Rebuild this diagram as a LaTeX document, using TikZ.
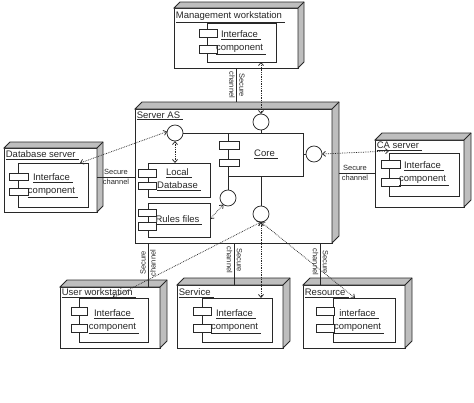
\documentclass[tikz,border=0pt]{standalone}
\usepackage{fontspec}
\setmainfont{Liberation Sans}
\usetikzlibrary{arrows.meta,calc}
\newcommand\ulx[1]{\underline{#1\hspace{3pt}}}
\newcommand\depthbox[2]{%
  \filldraw[fill=sidegray] (#1.north west) -- ([shift={(#2,#2)}]#1.north west) -- ([shift={(#2,#2)}]#1.north east) -- ([shift={(#2,#2)}]#1.south east) -- (#1.south east) -- (#1.north east) -- cycle;
  \draw (#1.north east) -- ([shift={(#2,#2)}]#1.north east);}
\definecolor{sidegray}{RGB}{190,190,190}
\definecolor{ink}{RGB}{40,40,40}
\begin{document}
\begin{tikzpicture}[x=1pt,y=-1pt,line width=0.75pt,color=ink,
  face/.style={draw=ink,fill=white,rectangle,inner sep=0pt,outer sep=0pt},
  comp/.style={draw=ink,rectangle,inner sep=0pt,outer sep=0pt},
  tiny/.style={draw=ink,fill=white,rectangle,inner sep=0pt,outer sep=0pt,minimum width=18pt,minimum height=7.5pt},
  iface/.style={draw=ink,fill=white,circle,inner sep=0pt,outer sep=0pt,minimum size=16pt},
  lbl/.style={inner sep=0pt,anchor=north west,font=\fontsize{9.5}{12}\selectfont,text=ink},
  txt/.style={inner sep=0pt,align=center,font=\fontsize{9.5}{13}\selectfont,text=ink},
  chan/.style={inner sep=0pt,align=center,font=\fontsize{7.5}{10}\selectfont,text=ink},
  dep/.style={densely dotted,{Straight Barb[length=3pt,width=5pt]}-{Straight Barb[length=3pt,width=5pt]}}]
\useasboundingbox (0,0) rectangle (474,402);

% ---------- nodes (front faces) ----------
\node[face,minimum width=124pt,minimum height=60pt] (mw) at (236,38) {};
\depthbox{mw}{6pt}
\node[face,minimum width=197pt,minimum height=134pt] (as) at (233.5,176) {};
\depthbox{as}{7pt}
\node[face,minimum width=93pt,minimum height=64pt] (ds) at (50.5,180) {};
\depthbox{ds}{6pt}
\node[face,minimum width=89pt,minimum height=67pt] (ca) at (419.5,173.5) {};
\depthbox{ca}{7pt}
\node[face,minimum width=100pt,minimum height=61pt] (uw) at (110,317.5) {};
\depthbox{uw}{7pt}
\node[face,minimum width=106pt,minimum height=63pt] (sv) at (230,316.5) {};
\depthbox{sv}{7pt}
\node[face,minimum width=102pt,minimum height=63pt] (rs) at (354,316.5) {};
\depthbox{rs}{7pt}

% ---------- node labels ----------
\node[lbl] (mwl) at ([shift={(1.5pt,-3.5pt)}]mw.north west) {\ulx{Management workstation}};
\node[lbl] (asl) at ([shift={(1.5pt,-2pt)}]as.north west) {\ulx{Server AS}};
\node[lbl] (dsl) at ([shift={(1.5pt,-2pt)}]ds.north west) {\ulx{Database server}};
\node[lbl] (cal) at ([shift={(1.5pt,-1.5pt)}]ca.north west) {\ulx{CA server}};
\node[lbl] (uwl) at ([shift={(1.5pt,-1.5pt)}]uw.north west) {\ulx{User workstation}};
\node[lbl] (svl) at ([shift={(1.5pt,-3pt)}]sv.north west) {\ulx{Service}};
\node[lbl] (rsl) at ([shift={(1.5pt,-4pt)}]rs.north west) {\ulx{Resource}};

% ---------- inner components ----------
\node[comp,minimum width=69pt,minimum height=39pt] (mwi) at (241.5,42.5) {};
\node[tiny] (mwa) at (208,33.5) {};
\node[tiny] (mwb) at (208,49.5) {};
\node[txt] (mwt) at (241,43) {\ulx{Interface}\\\ulx{component}};

\node[comp,minimum width=70pt,minimum height=44pt] (dsi) at (53,185) {};
\node[tiny,minimum width=19pt] (dsa) at (18.5,177) {};
\node[tiny,minimum width=19pt] (dsb) at (18.5,192) {};
\node[txt] (dst) at (53,185.5) {\ulx{Interface}\\\ulx{component}};

\node[comp,minimum width=70pt,minimum height=43pt] (cai) at (424,174.5) {};
\node[tiny,minimum width=19pt] (caa) at (390.5,164.5) {};
\node[tiny,minimum width=19pt] (cab) at (390.5,182.5) {};
\node[txt] (cat) at (424,174) {\ulx{Interface}\\\ulx{component}};

\node[comp,minimum width=69pt,minimum height=44pt] (uwi) at (113.5,320) {};
\node[tiny,minimum width=16pt] (uwa) at (79,311.5) {};
\node[tiny,minimum width=16pt] (uwb) at (79,328.5) {};
\node[txt] (uwt) at (114,321.5) {\ulx{Interface}\\\ulx{component}};

\node[comp,minimum width=70pt,minimum height=44pt] (svi) at (237,320) {};
\node[tiny] (sva) at (202,311.5) {};
\node[tiny] (svb) at (202,328.5) {};
\node[txt] (svt) at (236,321.5) {\ulx{Interface}\\\ulx{component}};

\node[comp,minimum width=62pt,minimum height=44pt] (rsi) at (364,320) {};
\node[tiny] (rsa) at (325,311.5) {};
\node[tiny] (rsb) at (325,328.5) {};
\node[txt] (rst) at (359,321.5) {\ulx{interface}\\\ulx{component}};

% ---------- Server AS contents ----------
\node[comp,minimum width=75pt,minimum height=43pt] (core) at (265.5,154.5) {};
\node[tiny,minimum width=20pt] (corea) at (229,145.5) {};
\node[tiny,minimum width=20pt] (coreb) at (229,163) {};
\node[txt] (coret) at (266,154.5) {\ulx{Core}};

\node[comp,minimum width=62pt,minimum height=34pt] (ldb) at (179,180) {};
\node[tiny] (ldba) at (147.5,173.5) {};
\node[tiny] (ldbb) at (147.5,186) {};
\node[txt] (ldbt) at (179,180) {\ulx{Local}\\\ulx{Database}};

\node[comp,minimum width=62pt,minimum height=34pt] (rf) at (179,220) {};
\node[tiny] (rfa) at (147.5,213) {};
\node[tiny] (rfb) at (147.5,226.5) {};
\node[txt] (rft) at (179,220) {\ulx{Rules files}};

\node[iface] (cL) at (175,133) {};
\node[iface] (cT) at (261,122) {};
\node[iface] (cR) at (314,154) {};
\node[iface] (cM) at (228,198) {};
\node[iface] (cB) at (261,214) {};

\draw (cL.east) -- (core.north west);
\draw (core.south west) -- (cM.north);
\draw (cT.south) -- (cT.south |- core.north);
\draw (cB.north |- core.south) -- (cB.north);
\draw (core.east |- cR.west) -- (cR.west);

% ---------- secure channels ----------
\coordinate (astop) at ([yshift=7pt]as.north);
\draw (236,0 |- mw.south) -- (236,0 |- astop);
\node[chan,rotate=-90] (mwc) at (237,85) {Secure\\channel};
\draw (ds.east |- 0,177) -- (as.west |- 0,177);
\node[chan] (dsc) at (116,177) {Secure\\channel};
\draw ([xshift=7pt]as.east |- 0,173) -- (ca.west |- 0,173);
\node[chan] (cac) at (355,173) {Secure\\channel};
\draw (148,0 |- as.south) -- (148,0 |- uw.north);
\node[chan,rotate=90] (uwc) at (148,263) {Secure\\channel};
\draw (234,0 |- as.south) -- (234,0 |- sv.north);
\node[chan,rotate=-90] (svc) at (234.5,260) {Secure\\channel};
\draw (320,0 |- as.south) -- (320,0 |- rs.north);
\node[chan,rotate=-90] (rsc) at (320.5,262) {Secure\\channel};

% ---------- dependencies ----------
\draw[dep] (cT.north) -- (cT.north |- mwi.south);
\draw[dep] (cL.south) -- (cL.south |- ldb.north);
\draw[dep] (cL.170) -- ([xshift=-8pt]dsi.north east);
\draw[dep] (cM.235) -- ([yshift=1pt]rf.east);
\draw[dep] (cR.east) -- ([yshift=2pt]cai.north west);
\draw[dep] (cB.south) -- ([xshift=-1pt]uwi.north);
\draw[dep] (cB.south) -- (cB.south |- svi.north);
\draw[dep] (cB.south) -- ([xshift=-9pt]rsi.north);
\end{tikzpicture}
\end{document}
